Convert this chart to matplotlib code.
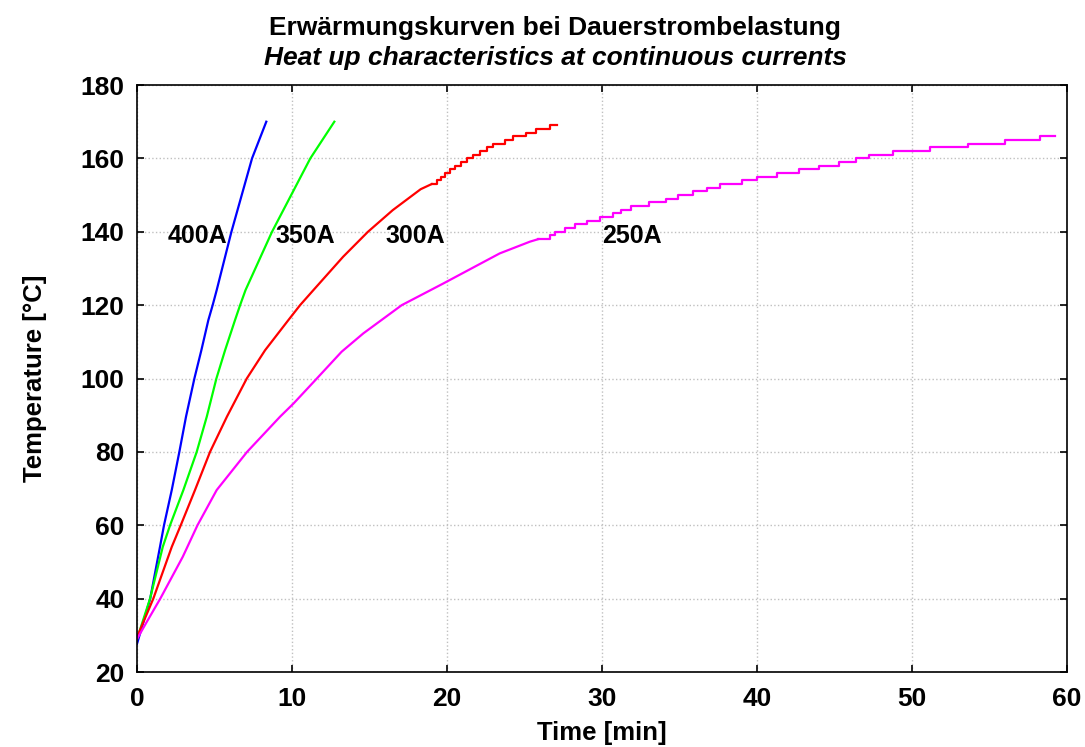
import matplotlib
matplotlib.use("Agg")
from matplotlib import pyplot as plt

plt.rcParams['font.family'] = ['Liberation Sans', 'DejaVu Sans']

# 400 A
t_400 = [0.0, 0.85, 1.48, 1.74, 2.24, 2.73, 3.16, 3.7, 4.15, 4.6, 4.88, 5.14, 6.09, 7.42, 8.34]
T_400 = [27.7, 40.0, 54.1, 60.0, 69.6, 80.0, 89.6, 100.0, 107.7, 115.9, 120.0, 124.1, 140.0, 160.0, 170.0]

# 350 A
t_350 = [0.0, 0.84, 1.66, 2.13, 2.99, 3.85, 4.5, 5.12, 5.68, 6.32, 6.65, 7.0, 8.71, 11.18, 12.73]
T_350 = [29.0, 40.0, 54.1, 60.0, 69.6, 80.0, 89.6, 100.0, 107.7, 115.9, 120.0, 124.1, 140.0, 160.0, 170.0]

# 300 A, rise part
t_300 = [0.0, 1.05, 2.24, 2.82, 3.74, 4.71, 5.8, 7.08, 8.26, 9.76, 10.52, 11.38, 13.3, 14.9, 16.5, 18.3, 19.01]
T_300 = [29.5, 40.0, 54.1, 60.0, 69.6, 80.0, 89.6, 100.0, 107.7, 115.9, 120.0, 124.1, 133.2, 140.0, 145.9, 151.6, 153.0]
# 300 A, stepped tail
t_300_steps = [19.01, 19.33, 19.59, 19.87, 20.19, 20.52, 20.88, 21.27, 21.66, 22.13, 22.56,
               22.99, 23.74, 24.28, 25.1, 25.74, 26.65, 27.08]
T_300_steps = [153, 154, 155, 156, 157, 158, 159, 160, 161, 162, 163,
               164, 165, 166, 167, 168, 169, 169]

# 250 A, rise part
t_250 = [0.0, 0.62, 1.5, 2.95, 3.9, 5.14, 7.1, 9.23, 10.1, 11.6, 13.2, 14.6,
         17.08, 19.76, 21.8, 23.4, 25.35, 25.9]
T_250 = [29.0, 33.6, 40.0, 51.4, 60.0, 69.6, 80.0, 89.6, 93.2, 100.0, 107.3, 112.3,
         120.0, 125.9, 130.5, 134.1, 137.3, 138.0]
# 250 A, stepped tail
t_250_steps = [25.9, 26.65, 26.97, 27.61, 28.26, 29.01, 29.87, 30.73, 31.2, 31.9, 33.05, 34.13, 34.88,
               35.85, 36.75, 37.61, 39.01, 40.02, 41.27, 42.73, 44.02, 45.31, 46.39, 47.25,
               48.8, 51.16, 53.63, 56.0, 58.26, 59.23]
T_250_steps = [138, 139, 140, 141, 142, 143, 144, 145, 146, 147, 148, 149, 150,
               151, 152, 153, 154, 155, 156, 157, 158, 159, 160, 161,
               162, 163, 164, 165, 166, 166]

labels = ['400A', '350A', '300A', '250A']
label_t = [3.92, 10.86, 17.93, 31.9]
label_T = [138.8, 138.8, 138.8, 138.8]

fig = plt.figure(figsize=(10.85, 7.47), dpi=100)
ax = fig.add_axes([0.1263, 0.1004, 0.8571, 0.7858])

lw = 1.6
ax.plot(t_400, T_400, color='#0000ff', lw=lw)
ax.plot(t_350, T_350, color='#00ff00', lw=lw)
ax.plot(t_300, T_300, color='#ff0000', lw=lw)
ax.plot(t_300_steps, T_300_steps, color='#ff0000', lw=lw, drawstyle='steps-post')
ax.plot(t_250, T_250, color='#ff00ff', lw=lw)
ax.plot(t_250_steps, T_250_steps, color='#ff00ff', lw=lw, drawstyle='steps-post')

for lab, x, y in zip(labels, label_t, label_T):
    ax.text(x, y, lab, fontsize=18, fontweight='bold', ha='center', va='center')

ax.set_xlim(0, 60)
ax.set_ylim(20, 180)
ax.set_xticks(range(0, 61, 10))
ax.set_yticks(range(20, 181, 20))
ax.grid(True, linestyle=':', color='#c0c0c0', linewidth=1.0)
ax.tick_params(direction='in', length=5, width=1.2, top=True, right=True, labelsize=19)
ax.tick_params(axis='x', pad=11)
ax.tick_params(axis='y', pad=9)
for lab in ax.get_xticklabels() + ax.get_yticklabels():
    lab.set_fontweight('bold')
for sp in ax.spines.values():
    sp.set_linewidth(1.2)

ax.set_xlabel('Time [min]', fontsize=18.5, fontweight='bold', labelpad=7)
ax.set_ylabel('Temperature [°C]', fontsize=18.5, fontweight='bold', labelpad=24)

fig.text(0.5115, 0.963, 'Erwärmungskurven bei Dauerstrombelastung', fontsize=19,
         fontweight='bold', ha='center', va='center')
fig.text(0.5115, 0.923, 'Heat up characteristics at continuous currents', fontsize=19,
         fontweight='bold', style='italic', ha='center', va='center')

fig.savefig('out.png', dpi=100)
